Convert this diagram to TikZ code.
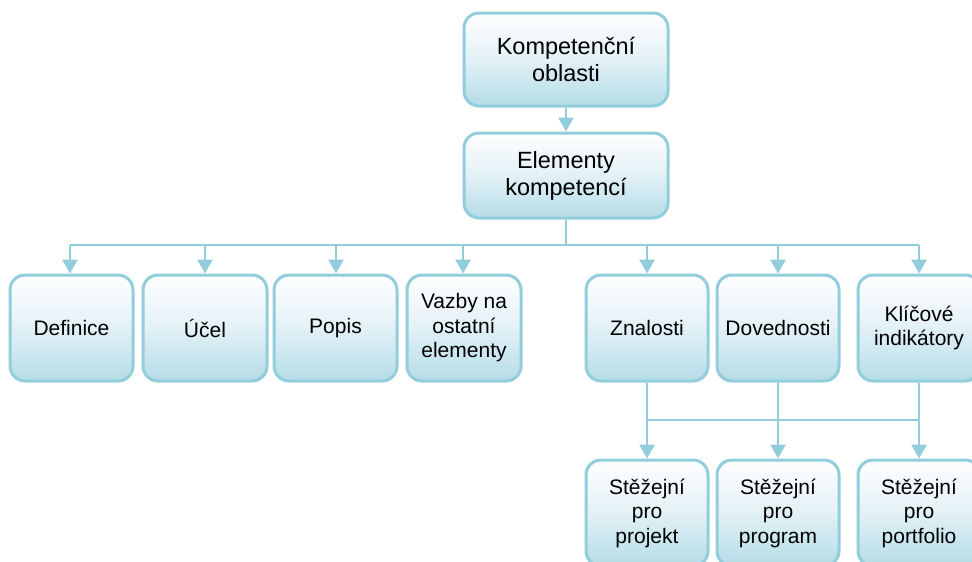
\documentclass[tikz,border=0pt]{standalone}
\usepackage{fontspec}
\setmainfont{Liberation Sans}
\usetikzlibrary{arrows.meta}
\definecolor{bline}{RGB}{146,205,220}
\definecolor{bfill}{RGB}{180,220,231}
\definecolor{bmid}{RGB}{226,241,246}
\begin{document}
\begin{tikzpicture}[x=1pt,y=-1pt,
  box/.style={draw=bline, line width=3pt, rounded corners=15pt,
    top color=white, bottom color=bfill, middle color=bmid,
    align=center, inner sep=0pt, text=black,
    font=\fontsize{21}{24.5}\selectfont},
  bigbox/.style={box, minimum width=204pt, font=\fontsize{23.5}{27}\selectfont},
  conn/.style={draw=bline, line width=2.8pt},
  arr/.style={conn, -{Triangle[length=14pt,width=15pt]}}]
\useasboundingbox (0,0) rectangle (972,562);
\clip (0,0) rectangle (972,562);

\node[bigbox, minimum height=93pt] (komp) at (566,59.5) {Kompetenční\\oblasti};
\node[bigbox, minimum height=85pt] (elem) at (566,175.5) {Elementy\\kompetencí};

\node[box, minimum width=123pt, minimum height=106pt] (def) at (71.5,328) {Definice};
\node[box, minimum width=124pt, minimum height=106pt] (ucel) at (205,328) {Účel};
\node[box, minimum width=123pt, minimum height=106pt] (popis) at (335.5,328) {Popis};
\node[box, minimum width=114pt, minimum height=106pt] (vazby) at (464,328) {Vazby na\\ostatní\\elementy};
\node[box, minimum width=122pt, minimum height=106pt] (znal) at (647,328) {Znalosti};
\node[box, minimum width=122pt, minimum height=106pt] (dov) at (778,328) {Dovednosti};
\node[box, minimum width=122pt, minimum height=106pt] (kli) at (919,328) {Klíčové\\indikátory};

\node[box, minimum width=122pt, minimum height=106pt] (sproj) at (647,513) {Stěžejní\\pro\\projekt};
\node[box, minimum width=122pt, minimum height=106pt] (sprog) at (778,513) {Stěžejní\\pro\\program};
\node[box, minimum width=122pt, minimum height=106pt] (sport) at (919,513) {Stěžejní\\pro\\portfolio};

\draw[arr] (komp) -- (elem);

\coordinate (barL) at (70,245);
\coordinate (barR) at (919,245);
\draw[conn] (elem.south) -- (elem.south |- barL);
\draw[conn] (barL) -- (barR);
\foreach \n/\x in {def/70,ucel/205,popis/336,vazby/463,znal/647,dov/778,kli/919}
  \draw[arr] (\x,245) -- (\x,0 |- \n.north);

\coordinate (lbL) at (647,420);
\coordinate (lbR) at (919,420);
\draw[conn] (lbL) -- (lbR);
\draw[arr] (znal) -- (sproj);
\draw[arr] (dov) -- (sprog);
\draw[arr] (kli) -- (sport);
\end{tikzpicture}
\end{document}
